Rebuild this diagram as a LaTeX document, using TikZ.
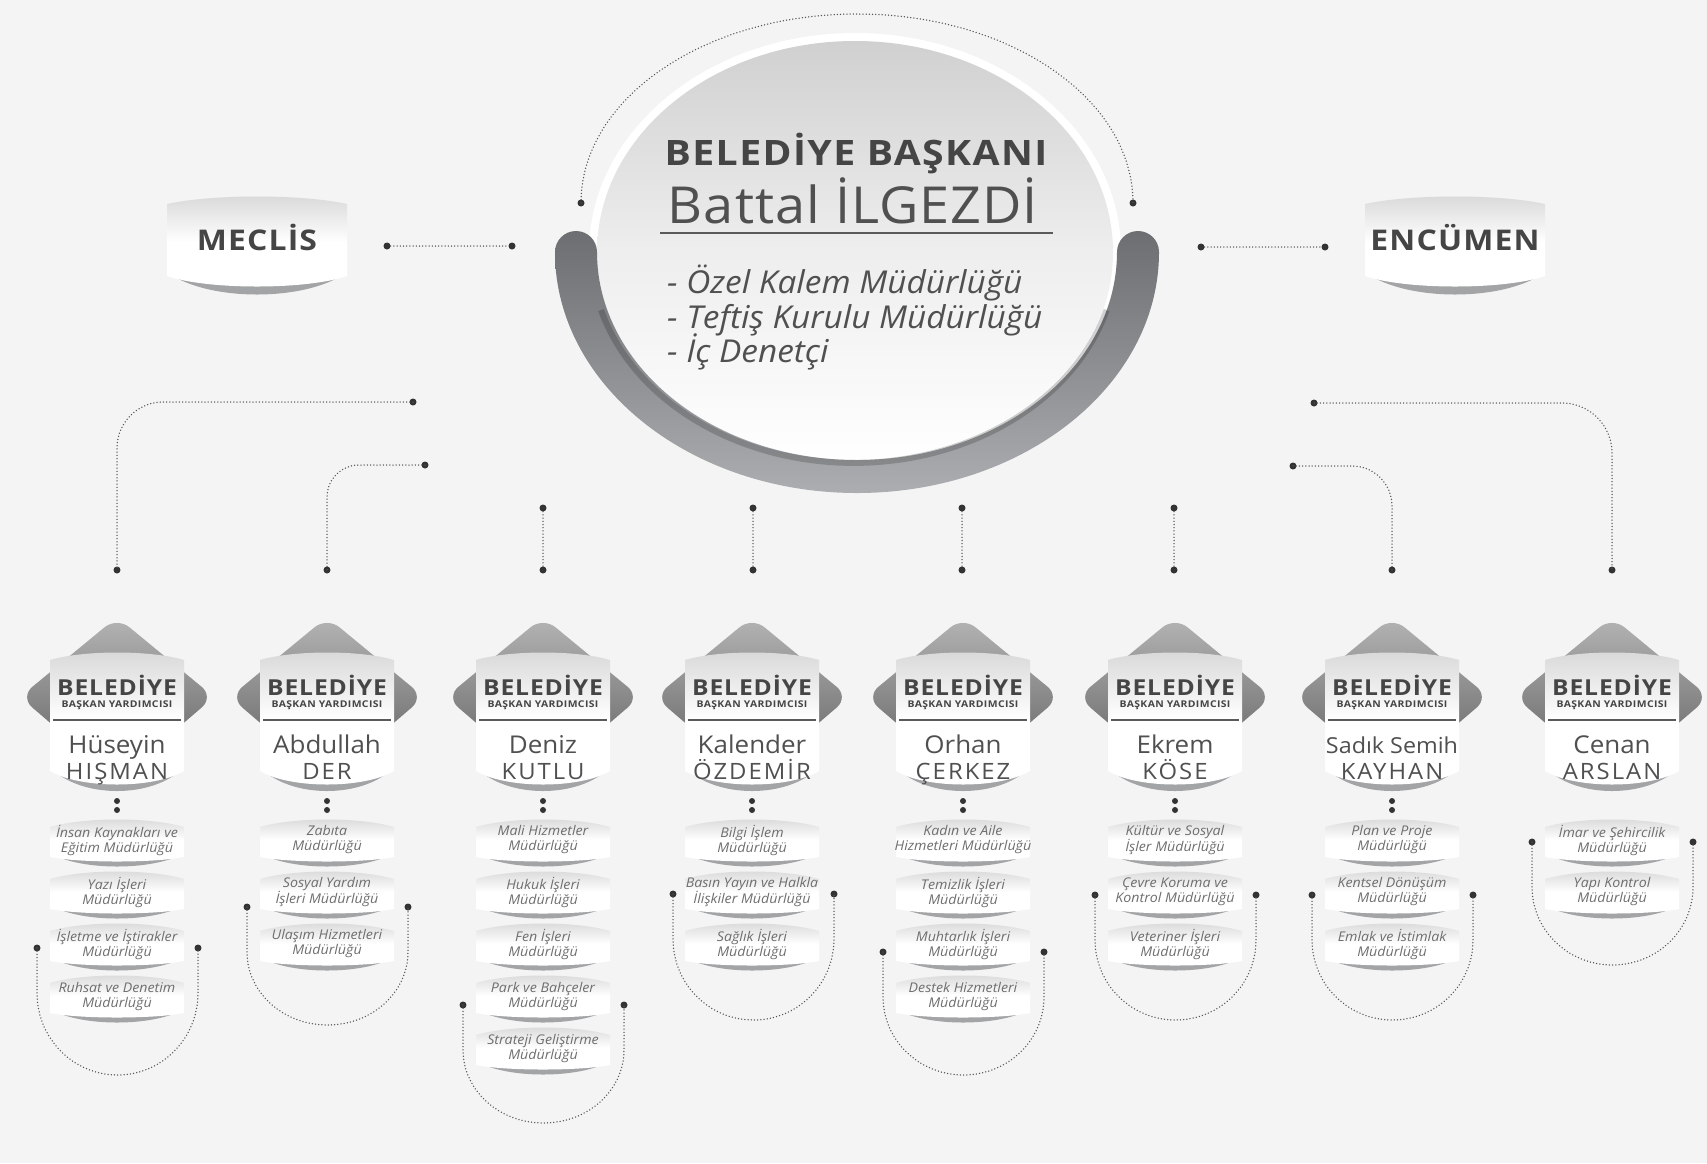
\documentclass[tikz,border=0pt]{standalone}
\usepackage{fontspec}
\setmainfont{Open Sans}
\newfontfamily\headfont[FakeStretch=1.12,LetterSpace=4]{Open Sans}
\newfontfamily\namefont[FakeStretch=1.06]{Open Sans}
\newfontfamily\bignamefont[FakeStretch=1.06,LetterSpace=2]{Open Sans}
\newfontfamily\namecaps[FakeStretch=1.06,LetterSpace=9]{Open Sans}
\definecolor{bgc}{HTML}{F4F4F4}
\definecolor{txtc}{HTML}{454545}
\definecolor{namec}{HTML}{505050}
\definecolor{pilltxt}{HTML}{6E6E6E}
\definecolor{dotc}{HTML}{333333}
\definecolor{linec}{HTML}{555555}
\definecolor{banddark}{HTML}{6C6E72}
\definecolor{bandlight}{HTML}{ABADB0}
\definecolor{diamtop}{HTML}{B4B4B4}
\definecolor{diambot}{HTML}{5C5C5C}
\definecolor{shadowc}{HTML}{A2A4A6}
\definecolor{boxtop}{HTML}{D8D8D8}
\definecolor{disktop}{HTML}{D0D0D0}
\definecolor{diskmid}{HTML}{EEEEEE}
\definecolor{sepc}{HTML}{5A5A5A}

% soft white box: #1 X, #2 half width, #3 top, #4 bottom of sides, #5 bottom bulge, #6 shadow
\newcommand{\softbox}[6]{%
  \fill[shadowc] ({#1-(#2)},{#4-4}) .. controls ({#1-0.55*(#2)},{#4+#5+#6}) and ({#1+0.55*(#2)},{#4+#5+#6}) .. ({#1+(#2)},{#4-4}) -- cycle;
  \shade[top color=boxtop, bottom color=white, middle color=white]
    ({#1-(#2)},{#4}) -- ({#1-(#2)},{#3+8})
    .. controls ({#1-0.5*(#2)},{#3-2}) and ({#1+0.5*(#2)},{#3-2}) .. ({#1+(#2)},{#3+8})
    -- ({#1+(#2)},{#4})
    .. controls ({#1+0.55*(#2)},{#4+#5}) and ({#1-0.55*(#2)},{#4+#5}) .. cycle;
}
% department pill: #1 name, #2 X, #3 centre y, #4 text
\newcommand{\pill}[4]{%
  \softbox{#2}{67}{#3-22}{#3+16}{6}{8}
  \node[pilltext] (#1) at (#2,{#3-1}) {#4};
}
% deputy mayor unit: #1 name, #2 X, #3 first name, #4 surname
\newcommand{\vpunit}[4]{%
  \shade[top color=diamtop, bottom color=diambot, rounded corners=16]
    (#2,617) -- ({#2+97},697) -- (#2,780) -- ({#2-97},697) -- cycle;
  \softbox{#2}{67}{652}{771}{18}{10}
  \node[vphead] (#1a) at (#2,695) {BELEDİYE};
  \node[vpsub] (#1b) at (#2,707) {BAŞKAN YARDIMCISI};
  \draw[sepline] ({#2-64},720) -- ({#2+64},720);
  \node[vpname] (#1c) at (#2,753) {#3};
  \node[vpcaps] (#1d) at (#2,779) {#4};
}
% dotted U bracket: #1 name, #2 X, #3 dot y, #4 bottom y
\newcommand{\ubracket}[4]{%
  \node[dotpt] (#1l) at ({#2-80},#3) {};
  \node[dotpt] (#1r) at ({#2+81},#3) {};
  \draw[dline] (#1l.center) -- ++(0,45)
    arc[start angle=180, end angle=0, x radius=80.5, y radius={#4-#3-45}] -- (#1r.center);
}

\begin{document}
\begin{tikzpicture}[x=1pt,y=-1pt,
  dotpt/.style={circle, fill=dotc, inner sep=0pt, minimum size=7pt},
  smalldot/.style={circle, fill=dotc, inner sep=0pt, minimum size=6pt},
  dline/.style={draw=linec, line width=1.5pt, line cap=round, dash pattern=on 0pt off 3.2pt},
  sepline/.style={draw=sepc, line width=1.1pt},
  pilltext/.style={align=center, font=\namefont\itshape\fontsize{13.4}{15}\selectfont, text=pilltxt, inner sep=0pt},
  vphead/.style={anchor=base, font=\headfont\bfseries\fontsize{22}{24}\selectfont, text=txtc, inner sep=0pt},
  vpsub/.style={anchor=base, font=\headfont\bfseries\fontsize{9.3}{10}\selectfont, text=txtc, inner sep=0pt},
  vpname/.style={anchor=base, font=\namefont\fontsize{24.5}{26}\selectfont, text=namec, inner sep=0pt},
  vpcaps/.style={anchor=base, font=\namecaps\fontsize{22.5}{25}\selectfont, text=namec, inner sep=0pt},
  bigcap/.style={anchor=base, font=\headfont\bfseries\fontsize{28.5}{30}\selectfont, text=txtc, inner sep=0pt},
  listtext/.style={anchor=base west, font=\namefont\itshape\fontsize{31.5}{36}\selectfont, text=namec, inner sep=0pt}
]
\useasboundingbox (0,0) rectangle (1707,1163);
\fill[bgc] (0,0) rectangle (1707,1163);

% ---------- mayor ----------
\node[dotpt] (tl) at (581,203) {};
\node[dotpt] (tr) at (1133,203) {};
\draw[dline] (tl.center) arc[start angle=180, end angle=360, x radius=276, y radius=189] -- (tr.center);

\fill[white] (855,252) ellipse [x radius=266, y radius=219];
\shade[top color=disktop, bottom color=white, middle color=diskmid] (855,252) ellipse [x radius=258, y radius=211];
\shade[top color=banddark, bottom color=bandlight]
  (555,252) arc[start angle=180, end angle=0, x radius=302, y radius=241]
  arc[start angle=0, end angle=-180, radius=21]
  arc[start angle=0, end angle=180, x radius=260, y radius=208]
  arc[start angle=0, end angle=-180, radius=21] -- cycle;
\draw[draw=black, opacity=0.18, line width=6pt] (601,310) arc[start angle=164, end angle=16, x radius=263, y radius=211];

\node[anchor=base, font=\headfont\bfseries\fontsize{35}{40}\selectfont, text=txtc, inner sep=0pt] (mayor) at (856,165) {BELEDİYE BAŞKANI};
\node[anchor=base, font=\bignamefont\fontsize{51}{54}\selectfont, text=namec, inner sep=0pt] (mayorname) at (853,223) {Battal İLGEZDİ};
\draw[sepline, line width=1.3pt] (660,233) -- (1053,233);
\node[listtext] (l1) at (667,293) {- Özel Kalem Müdürlüğü};
\node[listtext] (l2) at (667,328) {- Teftiş Kurulu Müdürlüğü};
\node[listtext] (l3) at (667,362) {- İç Denetçi};

% ---------- council boxes ----------
\softbox{257}{90}{196}{276}{14}{12}
\node[bigcap] (meclis) at (257,250) {MECLİS};
\softbox{1455}{90}{196}{276}{14}{12}
\node[bigcap] (encumen) at (1455,250) {ENCÜMEN};
\node[dotpt] (m1) at (387,246) {};
\node[dotpt] (m2) at (512,246) {};
\draw[dline] (m1) -- (m2);
\node[dotpt] (e1) at (1201,247) {};
\node[dotpt] (e2) at (1325,247) {};
\draw[dline] (e1) -- (e2);

% ---------- connectors to deputies ----------
\node[dotpt] (lo) at (413,402) {};
\node[dotpt] (li) at (425,465) {};
\node[dotpt] (ro) at (1314,403) {};
\node[dotpt] (ri) at (1293,466) {};
\node[dotpt] (c1t) at (117,570) {};
\node[dotpt] (c2t) at (327,570) {};
\node[dotpt] (c7t) at (1392,570) {};
\node[dotpt] (c8t) at (1612,570) {};
\draw[dline, rounded corners=46] (lo.center) -| (c1t.center);
\draw[dline, rounded corners=32] (li.center) -| (c2t.center);
\draw[dline, rounded corners=40] (ri.center) -| (c7t.center);
\draw[dline, rounded corners=50] (ro.center) -| (c8t.center);
\foreach \i/\x in {3/543,4/753,5/962,6/1174}{
  \node[dotpt] (v\i t) at (\x,508) {};
  \node[dotpt] (v\i b) at (\x,570) {};
  \draw[dline] (v\i t) -- (v\i b);
}

% ---------- brackets (behind pills) ----------
\ubracket{b1}{117}{948}{1075}
\ubracket{b2}{327}{907}{1025}
\ubracket{b3}{543}{1005}{1123}
\ubracket{b4}{753}{894}{1020}
\ubracket{b5}{963}{952}{1075}
\ubracket{b6}{1175}{895}{1020}
\ubracket{b7}{1392}{895}{1020}
\ubracket{b8}{1612}{842}{965}

% ---------- deputy mayors ----------
\vpunit{vpa}{117}{Hüseyin}{HIŞMAN}
\vpunit{vpb}{327}{Abdullah}{DER}
\vpunit{vpc}{543}{Deniz}{KUTLU}
\vpunit{vpd}{752}{Kalender}{ÖZDEMİR}
\vpunit{vpe}{963}{Orhan}{ÇERKEZ}
\vpunit{vpf}{1175}{Ekrem}{KÖSE}
\vpunit{vpg}{1392}{{\fontsize{22}{24}\selectfont Sadık Semih}}{KAYHAN}
\vpunit{vph}{1612}{Cenan}{ARSLAN}
\foreach \n/\x in {a/117,b/327,c/543,d/752,e/963,f/1175,g/1392}{
  \node[smalldot] (vp\n dot1) at (\x,801) {};
  \node[smalldot] (vp\n dot2) at (\x,810) {};
}

% ---------- departments ----------
\pill{d11}{117}{841}{İnsan Kaynakları ve\\Eğitim Müdürlüğü}
\pill{d12}{117}{893}{Yazı İşleri\\Müdürlüğü}
\pill{d13}{117}{945}{İşletme ve İştirakler\\Müdürlüğü}
\pill{d14}{117}{997}{Ruhsat ve Denetim\\Müdürlüğü}

\pill{d21}{327}{841}{Zabıta\\Müdürlüğü}
\pill{d22}{327}{893}{Sosyal Yardım\\İşleri Müdürlüğü}
\pill{d23}{327}{945}{Ulaşım Hizmetleri\\Müdürlüğü}

\pill{d31}{543}{841}{Mali Hizmetler\\Müdürlüğü}
\pill{d32}{543}{893}{Hukuk İşleri\\Müdürlüğü}
\pill{d33}{543}{945}{Fen İşleri\\Müdürlüğü}
\pill{d34}{543}{997}{Park ve Bahçeler\\Müdürlüğü}
\pill{d35}{543}{1049}{Strateji Geliştirme\\Müdürlüğü}

\pill{d41}{752}{841}{Bilgi İşlem\\Müdürlüğü}
\pill{d42}{752}{893}{Basın Yayın ve Halkla\\İlişkiler Müdürlüğü}
\pill{d43}{752}{945}{Sağlık İşleri\\Müdürlüğü}

\pill{d51}{963}{841}{Kadın ve Aile\\Hizmetleri Müdürlüğü}
\pill{d52}{963}{893}{Temizlik İşleri\\Müdürlüğü}
\pill{d53}{963}{945}{Muhtarlık İşleri\\Müdürlüğü}
\pill{d54}{963}{997}{Destek Hizmetleri\\Müdürlüğü}

\pill{d61}{1175}{841}{Kültür ve Sosyal\\İşler Müdürlüğü}
\pill{d62}{1175}{893}{Çevre Koruma ve\\Kontrol Müdürlüğü}
\pill{d63}{1175}{945}{Veteriner İşleri\\Müdürlüğü}

\pill{d71}{1392}{841}{Plan ve Proje\\Müdürlüğü}
\pill{d72}{1392}{893}{Kentsel Dönüşüm\\Müdürlüğü}
\pill{d73}{1392}{945}{Emlak ve İstimlak\\Müdürlüğü}

\pill{d81}{1612}{841}{İmar ve Şehircilik\\Müdürlüğü}
\pill{d82}{1612}{893}{Yapı Kontrol\\Müdürlüğü}
\end{tikzpicture}
\end{document}
